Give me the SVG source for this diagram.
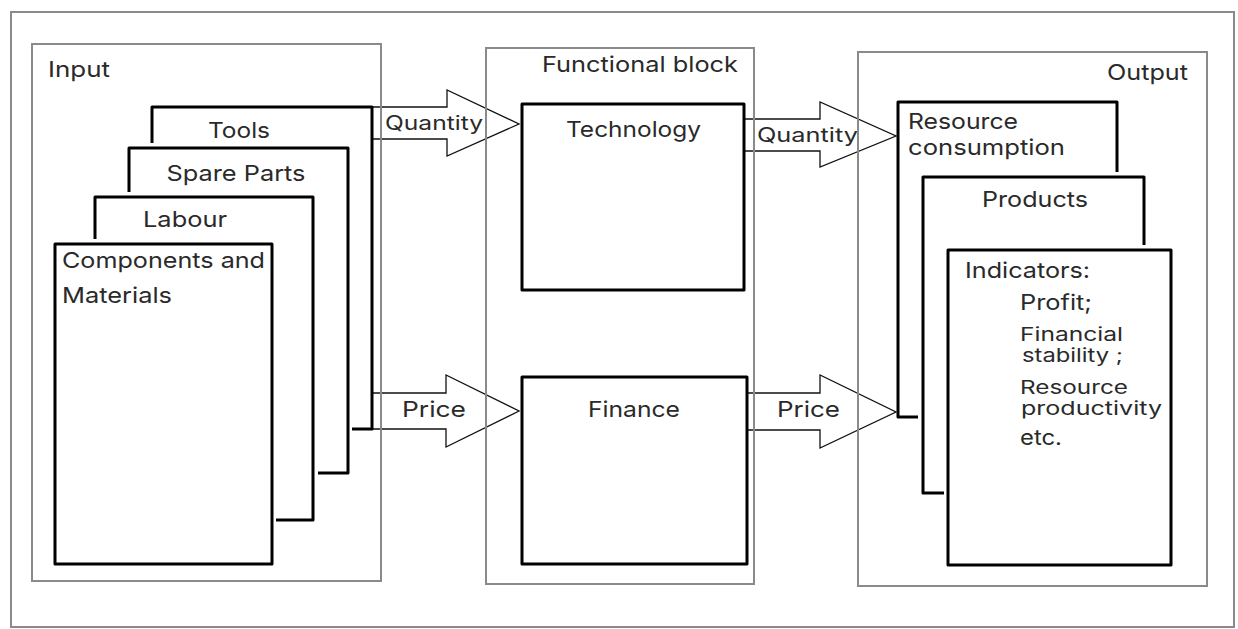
<svg xmlns="http://www.w3.org/2000/svg" width="1238" height="629" viewBox="0 0 1238 629">
<style>
.frame{fill:none;stroke:#8a8a8a;stroke-width:2}
.page{fill:none;stroke:#000;stroke-width:3;stroke-linejoin:round}
.arrow{fill:none;stroke:#111;stroke-width:1.3;stroke-linejoin:miter}
text{font-family:Inter,"Liberation Sans",Arial,sans-serif;fill:#2a2a2a;font-size:22px}
.q{font-size:20px}
.s{font-size:21px}
.t{font-size:18.5px}
.m{text-anchor:middle}
</style>
<rect width="1238" height="629" fill="#fff"/>
<g id="frame"><rect class="frame" x="11" y="12" width="1223" height="615"/></g>

<g id="connectors">
<path id="qty-left" class="arrow" d="M372,107 H447 V90 L519,124 L447,156 V139 H372"/>
<path id="price-left" class="arrow" d="M372,393 H446 V375 L519,411 L446,447 V429 H372"/>
<path id="qty-right" class="arrow" d="M744,119 H820 V102 L896,136 L820,167 V151 H744"/>
<path id="price-right" class="arrow" d="M747,393 H820 V375 L896,412 L820,448 V430 H747"/>
<text class="q" x="385" y="130" textLength="98" lengthAdjust="spacingAndGlyphs">Quantity</text>
<text x="402" y="417" textLength="64" lengthAdjust="spacingAndGlyphs">Price</text>
<text class="q" x="757" y="142" textLength="101" lengthAdjust="spacingAndGlyphs">Quantity</text>
<text x="777" y="417" textLength="63" lengthAdjust="spacingAndGlyphs">Price</text>
</g>

<g id="input">
<rect class="frame" x="32" y="44" width="349" height="537"/>
<text x="48" y="77" textLength="62" lengthAdjust="spacingAndGlyphs">Input</text>
</g>
<g id="tools">
<path class="page" d="M152,143 V107 H372 V429 H352"/>
<text class="m" x="239" y="138" textLength="62" lengthAdjust="spacingAndGlyphs">Tools</text>
</g>
<g id="spare-parts">
<path class="page" d="M129,192 V148 H348 V473 H318"/>
<text class="m" x="236" y="181" textLength="139" lengthAdjust="spacingAndGlyphs">Spare Parts</text>
</g>
<g id="labour">
<path class="page" d="M95,239 V197 H313 V520 H276"/>
<text x="143" y="227" textLength="84" lengthAdjust="spacingAndGlyphs">Labour</text>
</g>
<g id="components">
<rect class="page" x="55" y="244" width="217" height="320"/>
<text x="62" y="268" textLength="203" lengthAdjust="spacingAndGlyphs">Components and</text>
<text x="62" y="303" textLength="110" lengthAdjust="spacingAndGlyphs">Materials</text>
</g>

<g id="functional-block">
<rect class="frame" x="486" y="48" width="268" height="536"/>
<text x="542" y="72" textLength="196" lengthAdjust="spacingAndGlyphs">Functional block</text>
</g>
<g id="technology">
<rect class="page" x="522" y="104" width="222" height="186"/>
<text x="566" y="137" textLength="135" lengthAdjust="spacingAndGlyphs">Technology</text>
</g>
<g id="finance">
<rect class="page" x="522" y="377" width="225" height="187"/>
<text x="588" y="417" textLength="92" lengthAdjust="spacingAndGlyphs">Finance</text>
</g>

<g id="output">
<rect class="frame" x="858" y="52" width="349" height="534"/>
<text x="1107" y="80" textLength="81" lengthAdjust="spacingAndGlyphs">Output</text>
</g>
<g id="resource-consumption">
<path class="page" d="M918,417 H898 V102 H1117 V172"/>
<text x="908" y="129" textLength="110" lengthAdjust="spacingAndGlyphs">Resource</text>
<text x="908" y="155" textLength="157" lengthAdjust="spacingAndGlyphs">consumption</text>
</g>
<g id="products">
<path class="page" d="M944,493 H923 V177 H1144 V245"/>
<text x="982" y="207" textLength="106" lengthAdjust="spacingAndGlyphs">Products</text>
</g>
<g id="indicators">
<rect class="page" x="948" y="250" width="223" height="315"/>
<text x="965" y="278" textLength="125" lengthAdjust="spacingAndGlyphs">Indicators:</text>
<text class="s" x="1020" y="310" textLength="72" lengthAdjust="spacingAndGlyphs">Profit;</text>
<text class="t" x="1020" y="341" textLength="103" lengthAdjust="spacingAndGlyphs">Financial</text>
<text class="t" x="1022" y="362" textLength="101" lengthAdjust="spacingAndGlyphs">stability ;</text>
<text class="t" x="1020" y="394" textLength="108" lengthAdjust="spacingAndGlyphs">Resource</text>
<text class="t" x="1021" y="415" textLength="141" lengthAdjust="spacingAndGlyphs">productivity</text>
<text class="s" x="1020" y="445" textLength="42" lengthAdjust="spacingAndGlyphs">etc.</text>
</g>
</svg>
